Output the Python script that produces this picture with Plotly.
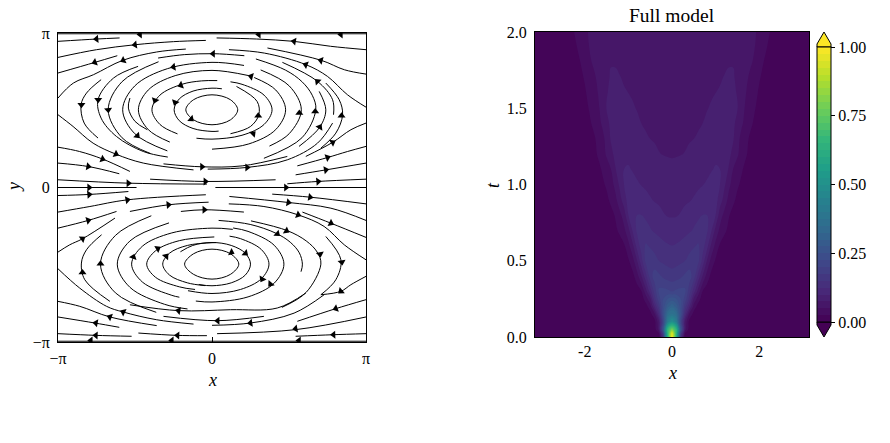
import plotly.graph_objects as go

# ---------- left panel: streamlines (x, y in units of pi) ----------
STREAM_X = [
 [-1,1],[-1,-.75,-.6],[-1,-.75,-.5,-.25,-.04],[.03,.29,.53,.77,1],[-1,-.76,-.615],
 [-1,-.9,-.77,-.58,-.36,-.17],[-.35,-.18,.01,.21],[.11,.34,.61,.75,.88,1],[.36,.71,.86,1],
 [-.72,-.815,-.85,-.83,-.74],[-.48,-.64,-.74,-.72,-.62,-.446,-.287],
 [-.347,-.584,-.674,-.584,-.4],[.208,0,-.29,-.502,-.58,-.502,-.29],
 [-.533,-.543,-.5,-.42],[.239,0,-.239,-.414,-.478,-.414,-.274],[.034,-.068,-.195,-.338,-.39,-.338,-.224],
 [.064,0,-.123,-.213,-.246,-.213,-.123,0,.043],[-.17,-.12,0,.12,.167,.12,0,-.12,-.17],
 [.12,.25,.304,.293,.159],[-.101,0,.195,.338,.39,.338,.195,.12],
 [0,.239,.414,.478,.414,.274],[.373,.502,.58,.502,.316],
 [.285,.477,.584,.651,.674,.584,.337],[.457,.685,.783,.789],[.739,.826,.848,.804,.707],
 [.696,.739,.7,.565],[1,.902,.783,.609],[1,.88,.75,.554],[1,.739,.543],[1,.685,.489],[1,.022],
 [-1,-.543,-.033],[-.402,-.043,.413],[-1,-.49],[-1,-.86,-.71,-.533],[-1,-.804,-.602],
 [-1,-.902,-.772,-.624,-.446,-.12],[-.315,-.065,.196,.489],[-.028,.228,.489,.685,.783],
 [-1,-.798,-.543],[-1,-.793,-.55,-.04],[-.533,-.283,-.022],[-.202,-.05,.207],[-1,-.804,-.62],
 [-1,-.924,-.841,-.63],[-.717,-.815,-.848,-.826,-.663],[-.394,-.627,-.724,-.627,-.362],
 [-.279,-.533,-.615,-.533,-.308,-.159],[.135,0,-.261,-.452,-.522,-.452,-.261,-.212],
 [.015,-.212,-.367,-.424,-.367,-.212,-.11],[.028,-.16,-.277,-.32,-.277,-.16,-.045],
 [-.178,-.12,0,.12,.174,.12,0,-.12,-.178],[-.205,-.125,0,.125,.217,.25,.217,.125,0,-.086],
 [-.156,0,.185,.32,.37,.32,.185,.114],[-.105,0,.234,.404,.467,.404,.234,.137],[.043,.248,.415,.508,.567,.587,.578],
 [.253,.491,.612,.683,.707,.612,.454],[.113,.496,.772,1],[.391,.637,1],[.109,.337,.559,.728,.859,1],
 [.587,.772,1],[.739,.837,.804,.707],[1,.902,.837,.707],[1,.804,.554],[1,.543,.033],
 [1,.783,.543],[-1,-.859,-.663,-.359],[-1,-.761,-.602],[-1,-.754,-.522],[-.478,-.228,-.033],
 [-1,-.859,-.685,-.576,-.359,-.12],[-.315,.033,.337],[0,.25,.533,.728],
 [-.533,-.217,.12,.424,.609],[-1,1],
]
STREAM_Y = [
 [.995,.995],[.946,.961,.968],[.842,.892,.924,.944,.952],[.968,.961,.946,.914,.892],[.741,.81,.853],
 [.579,.676,.73,.823,.877,.896],[.838,.86,.866,.853],[.892,.87,.795,.719,.6,.52],[.903,.823,.762,.734],
 [.698,.611,.536,.417,.32],[.784,.708,.568,.449,.33,.233,.197],
 [.814,.685,.503,.322,.22],[.79,.81,.769,.657,.503,.349,.237],
 [.579,.514,.428,.374],[.724,.758,.724,.631,.503,.375,.294],[.692,.69,.668,.598,.503,.408,.347],
 [.639,.643,.624,.573,.503,.433,.382,.363,.365],[.503,.568,.6,.568,.503,.438,.406,.438,.503],
 [.348,.395,.471,.557,.654],[.319,.313,.338,.408,.503,.598,.668,.684],
 [.248,.282,.375,.503,.631,.712],[.268,.349,.503,.657,.761],
 [.832,.76,.685,.597,.503,.322,.189],[.81,.687,.568,.471],[.676,.568,.471,.352,.255],
 [.622,.503,.391,.266],[.417,.374,.292,.201],[.266,.233,.194,.14],[.158,.114,.082],[.054,.039,.024],[0,0],
 [.05,.028,.022],[.054,.039,.05],[0,0],[.261,.233,.184,.104],[.158,.136,.089],
 [.471,.395,.287,.216,.158,.114],[.153,.134,.14,.201],[.119,.13,.179,.287,.417],
 [-.052,-.045,-.026],[-.159,-.123,-.08,-.047],[-.155,-.112,-.095],[-.155,-.144,-.159],[-.263,-.213,-.155],
 [-.418,-.371,-.332,-.198],[-.306,-.403,-.489,-.597,-.737],[-.183,-.31,-.496,-.682,-.808],
 [-.229,-.346,-.496,-.646,-.756,-.786],[-.271,-.263,-.294,-.38,-.496,-.612,-.698,-.71],
 [-.32,-.344,-.41,-.496,-.581,-.643,-.66],[-.356,-.375,-.426,-.496,-.566,-.617,-.635],
 [-.496,-.429,-.399,-.429,-.496,-.562,-.593,-.562,-.496],[-.416,-.375,-.356,-.375,-.426,-.496,-.566,-.617,-.636,-.628],
 [-.668,-.686,-.66,-.591,-.496,-.401,-.331,-.315],[-.735,-.741,-.708,-.619,-.496,-.374,-.284,-.262],[-.213,-.239,-.296,-.354,-.423,-.496,-.545],
 [-.216,-.28,-.346,-.418,-.496,-.678,-.776],[-.058,-.097,-.134,-.213],[-.043,-.0625,-.106],[-.106,-.123,-.177,-.252,-.371,-.468],
 [-.159,-.231,-.323],[-.317,-.468,-.597,-.694],[-.575,-.629,-.672,-.694],[-.726,-.784,-.866],[-.838,-.92,-.946],
 [-.946,-.953,-.963],[-.737,-.769,-.838,-.894],[-.838,-.877,-.905],[-.946,-.957,-.963],[-.942,-.957,-.959],
 [-.526,-.651,-.769,-.806,-.856,-.884],[-.834,-.862,-.834],[-.892,-.877,-.813,-.694],
 [-.759,-.797,-.791,-.78,-.683],[-.995,-.995],
]
ARROW_X = [-.467,.304,.837,-.75,-.5,.007,.533,-.761,-.576,-.25,.609,.707,.254,.685,-.202,-.37,-.239,-.848,-.739,-.674,
 -.485,-.135,.3,.567,.67,.7,.841,.267,.783,.75,.739,.689,.48,.228,-.065,-.043,-.543,-.798,-.804,-.711,-.624,
 -.798,-.55,-.283,-.05,-.804,-.841,.496,.637,.559,.772,.424,.483,.702,.843,-.352,-.511,-.298,.126,.217,-.724,-.841,
 .326,.38,.837,.804,.543,.789,.25,.037,-.217,-.576,-.663,-.754,-.754,-.224,-.787,-.261,.565]
ARROW_Y = [.991,.991,.991,.961,.924,.866,.946,.81,.823,.78,.795,.823,.719,.687,.662,.564,.551,.536,.568,.503,
 .335,.443,.464,.482,.492,.391,.464,.348,.292,.194,.114,.039,0,.13,.134,.039,.028,0,.136,.184,.216,
 -.045,-.08,-.112,-.144,-.213,-.332,-.097,-.0625,-.177,-.231,-.30,-.28,-.43,-.483,-.395,-.45,-.445,-.42,-.426,-.494,-.55,
 -.593,-.625,-.672,-.784,-.914,-.953,-.877,-.862,-.797,-.806,-.838,-.877,-.957,-.957,-.991,-.991,-.991]
ARROW_HEADING = [270,270,270,265,262,270,280,250,245,260,290,285,285,315,250,200,200,180,180,175,
 135,130,0,0,0,30,0,45,60,70,80,85,90,90,90,90,90,90,100,110,115,
 85,80,85,90,75,55,100,100,110,115,130,120,170,170,60,20,40,115,130,0,0,
 210,220,230,250,260,268,262,270,280,295,290,280,272,272,270,270,270]

# ---------- right panel: field read on a grid (x >= 0 half, rows shorter than X_HALF are zero beyond their end) ----------
X_HALF = [0,.1,.2,.3,.4,.5,.6,.7,.8,.9,1,1.1,1.2,1.3,1.4,1.5,1.6,1.7,1.8,1.9,2,2.1,2.2,2.3,2.4,2.6,3.14]
T_VALUES = [0,.025,.05,.1,.15,.2,.25,.3,.4,.5,.6,.7,.8,.9,1,1.1,1.2,1.3,1.4,1.5,1.6,1.7,1.8,1.9,2]
Z_HALF = [
 [1,.62,.14,.012],
 [.96,.64,.19,.025,.003],
 [.78,.65,.26,.06,.01],
 [.5,.42,.21,.07,.015,.003],
 [.38,.35,.24,.12,.045,.015,.004,.001],
 [.32,.29,.235,.16,.1,.04,.015,.005,.001],
 [.26,.25,.225,.19,.14,.07,.036,.013,.004,.001],
 [.2,.205,.208,.205,.16,.112,.065,.025,.012,.005,.002,.001],
 [.16,.163,.17,.18,.186,.163,.117,.075,.04,.018,.008,.004,.002,.001],
 [.14,.142,.145,.15,.16,.166,.158,.117,.075,.041,.022,.012,.006,.003,.001],
 [.125,.127,.13,.135,.14,.147,.153,.137,.111,.071,.043,.022,.014,.008,.004,.002,.001],
 [.11,.112,.115,.118,.122,.127,.133,.137,.13,.104,.067,.044,.03,.02,.013,.008,.004,.002,.001],
 [.098,.0985,.1015,.107,.112,.117,.121,.125,.125,.112,.1,.062,.043,.027,.018,.011,.007,.004,.002,.001],
 [.092,.093,.094,.096,.098,.102,.107,.112,.116,.118,.11,.088,.065,.043,.03,.02,.014,.009,.005,.003,.001],
 [.085,.085,.086,.088,.09,.093,.096,.099,.103,.107,.107,.1,.08,.057,.04,.028,.021,.014,.01,.006,.003,.002,.001],
 [.079,.08,.081,.082,.083,.085,.088,.091,.094,.0985,.102,.1,.09,.073,.05,.037,.027,.019,.013,.008,.005,.003,.001],
 [.0735,.0738,.0745,.0755,.0775,.08,.082,.084,.087,.091,.095,.097,.095,.083,.067,.054,.037,.027,.018,.012,.008,.005,.003,.001],
 [.072,.072,.072,.073,.074,.075,.076,.078,.08,.083,.086,.089,.09,.088,.078,.058,.042,.03,.021,.015,.01,.007,.004,.002,.001],
 [.07,.07,.07,.071,.072,.073,.074,.075,.077,.079,.081,.083,.084,.084,.08,.068,.053,.041,.029,.021,.015,.01,.006,.004,.002,.001],
 [.069,.07,.07,.07,.071,.072,.073,.074,.0745,.076,.077,.079,.08,.081,.079,.076,.059,.045,.034,.026,.019,.013,.009,.005,.003,.001],
 [.069,.069,.069,.07,.07,.071,.072,.072,.073,.074,.075,.076,.078,.079,.078,.074,.066,.05,.04,.031,.022,.016,.011,.007,.004,.001],
 [.068,.068,.069,.069,.069,.07,.07,.071,.071,.072,.073,.074,.0755,.077,.076,.073,.067,.056,.043,.034,.027,.02,.014,.009,.006,.002],
 [.068,.068,.068,.068,.069,.069,.069,.07,.07,.071,.071,.072,.073,.074,.0745,.072,.068,.062,.054,.044,.035,.025,.018,.012,.008,.003],
 [.068,.068,.068,.068,.068,.069,.069,.069,.07,.07,.071,.072,.072,.073,.074,.072,.068,.062,.056,.05,.042,.032,.023,.016,.011,.004],
 [.068,.068,.068,.068,.068,.068,.069,.069,.069,.07,.07,.071,.071,.072,.072,.071,.067,.062,.057,.052,.045,.037,.029,.02,.014,.006],
]
BACKGROUND_FLOOR = .002
COLORBAR_TICKS = [0,.25,.5,.75,1]
COLORBAR_LABELS = ["0.00","0.25","0.50","0.75","1.00"]

W, H = 890, 443
FONT = "Liberation Serif"
px = lambda v: v / W
py = lambda v: 1 - v / H

x_full = [-v for v in X_HALF[:0:-1]] + X_HALF
z_full = []
for row in Z_HALF:
    padded = [max(v, BACKGROUND_FLOOR) for v in row] + [BACKGROUND_FLOOR] * (len(X_HALF) - len(row))
    z_full.append(padded[:0:-1] + padded)

fig = go.Figure()
for sx, sy in zip(STREAM_X, STREAM_Y):
    fig.add_trace(go.Scatter(x=sx, y=sy, mode="lines", xaxis="x", yaxis="y", hoverinfo="skip",
                             line=dict(color="black", width=1, shape="spline", smoothing=1), showlegend=False))
fig.add_trace(go.Scatter(x=ARROW_X, y=ARROW_Y, mode="markers", xaxis="x", yaxis="y", hoverinfo="skip", showlegend=False,
                         marker=dict(symbol="triangle-up", size=7, color="black", angle=ARROW_HEADING, line=dict(width=0))))

fig.add_trace(go.Contour(x=x_full, y=T_VALUES, z=z_full, xaxis="x2", yaxis="y2",
                         colorscale="Viridis", zmin=0, zmax=1, hoverinfo="skip",
                         autocontour=False, contours=dict(coloring="fill", start=0, end=1, size=.025, showlines=False),
                         line=dict(width=0, smoothing=1.3),
                         colorbar=dict(thickness=14, thicknessmode="pixels", len=(322-47)/H, lenmode="fraction",
                                       x=px(817), xanchor="left", xpad=0, y=py(322), yanchor="bottom", ypad=0,
                                       outlinecolor="black", outlinewidth=1,
                                       tickmode="array", tickvals=COLORBAR_TICKS, ticktext=COLORBAR_LABELS,
                                       ticks="outside", ticklen=4, tickwidth=1, tickcolor="black",
                                       tickfont=dict(family=FONT, size=16, color="black"))))

axis_common = dict(showgrid=False, zeroline=False, showline=True, linecolor="black", linewidth=1, mirror=True,
                   tickcolor="black", tickfont=dict(family=FONT, size=16, color="black"))
label = lambda text, x, y, **kw: dict(text=text, x=px(x), y=py(y), xref="paper", yref="paper", showarrow=False,
                                      font=dict(family=FONT, size=kw.pop("size", 18), color="black"),
                                      xanchor="center", yanchor="middle", **kw)
fig.update_layout(
    width=W, height=H, margin=dict(l=0, r=0, t=0, b=0, autoexpand=False), paper_bgcolor="white", plot_bgcolor="white",
    font=dict(family=FONT, size=16, color="black"), showlegend=False,
    xaxis=dict(domain=[px(58), px(366)], range=[-1, 1], tickmode="array", tickvals=[-1, 0, 1], ticktext=["−π", "0", "π"],
               ticks="inside", ticklen=5, ticklabelstandoff=2, **axis_common),
    yaxis=dict(domain=[py(342), py(33)], range=[-1, 1], tickmode="array", tickvals=[-1, 0, 1], ticktext=["−π", "0", "π"],
               ticks="inside", ticklen=5, ticklabelstandoff=4, **axis_common),
    xaxis2=dict(domain=[px(535), px(809)], range=[-3.14, 3.14], tickmode="array", tickvals=[-2, 0, 2], ticktext=["-2", "0", "2"],
                ticks="", anchor="y2", ticklabelstandoff=0, **axis_common),
    yaxis2=dict(domain=[py(337), py(32)], range=[0, 2], tickmode="array", tickvals=[0, .5, 1, 1.5, 2], ticktext=["0.0", "0.5", "1.0", "1.5", "2.0"],
                ticks="", anchor="x2", ticklabelstandoff=4, **axis_common),
    annotations=[
        label("Full model", 672, 15, size=19.5),
        label("<i>x</i>", 212, 380), label("<i>y</i>", 14, 187, textangle=-90),
        label("<i>x</i>", 672, 373), label("<i>t</i>", 493, 185, textangle=-90),
    ],
    shapes=[
        dict(type="path", xref="paper", yref="paper", fillcolor="#fde725", line=dict(color="black", width=1),
             path=f"M {px(817)} {py(47)} L {px(817)} {py(44)} L {px(824)} {py(32)} L {px(831)} {py(44)} L {px(831)} {py(47)} Z"),
        dict(type="path", xref="paper", yref="paper", fillcolor="#440154", line=dict(color="black", width=1),
             path=f"M {px(817)} {py(322)} L {px(817)} {py(325)} L {px(824)} {py(337)} L {px(831)} {py(325)} L {px(831)} {py(322)} Z"),
    ],
)
fig.write_html("out.html", config=dict(displayModeBar=False), post_script="document.body.style.margin='0';")
